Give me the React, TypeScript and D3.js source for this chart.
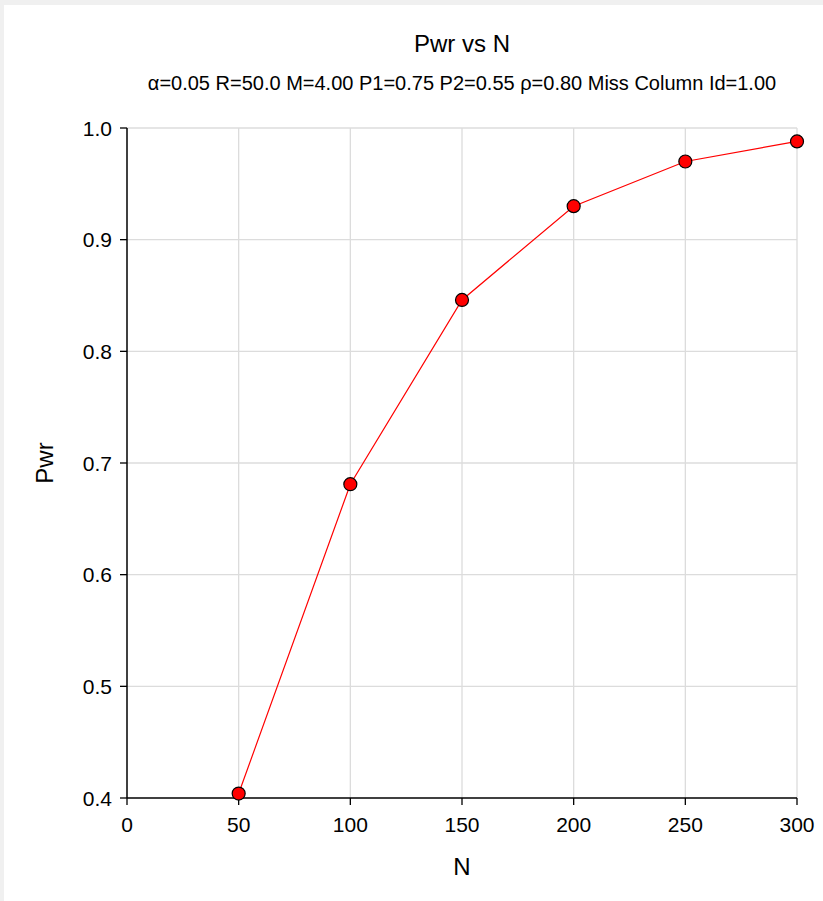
import React from "react";
import * as d3 from "d3";

const nValues = [50, 100, 150, 200, 250, 300];
const pwrValues = [0.404, 0.681, 0.846, 0.93, 0.97, 0.988];
const xTicks = [0, 50, 100, 150, 200, 250, 300];
const yTicks = [0.4, 0.5, 0.6, 0.7, 0.8, 0.9, 1.0];
const titleText = "Pwr vs N";
const subtitleText = "α=0.05 R=50.0 M=4.00 P1=0.75 P2=0.55 ρ=0.80 Miss Column Id=1.00";
const xLabel = "N";
const yLabel = "Pwr";

const W = 823;
const H = 901;
const FONT = "'Liberation Sans', Arial, Helvetica, sans-serif";

export default function App() {
  const left = 127;
  const right = 797;
  const top = 128;
  const bottom = 798;
  const x = d3.scaleLinear().domain([0, 300]).range([left, right]);
  const y = d3.scaleLinear().domain([0.4, 1.0]).range([bottom, top]);
  const pts = nValues.map((n, i) => [n, pwrValues[i]] as [number, number]);
  const line = d3
    .line<[number, number]>()
    .x((d) => x(d[0]))
    .y((d) => y(d[1]));

  return (
    <svg
      width={W}
      height={H}
      style={{ position: "absolute", left: 0, top: 0, display: "block" }}
      fontFamily={FONT}
    >
      <rect x={0} y={0} width={W} height={H} fill="#f0f0f0" />
      <rect x={4} y={5} width={W - 4} height={H - 5} fill="#ffffff" />

      {/* gridlines */}
      {yTicks.filter((t) => t > 0.4).map((t) => (
        <line key={"gy" + t} x1={left} x2={right} y1={y(t)} y2={y(t)} stroke="#dcdcdc" strokeWidth={1.3} />
      ))}
      {xTicks.filter((t) => t > 0).map((t) => (
        <line key={"gx" + t} x1={x(t)} x2={x(t)} y1={top} y2={bottom} stroke="#dcdcdc" strokeWidth={1.3} />
      ))}

      {/* axes */}
      <line x1={left} x2={left} y1={top} y2={bottom} stroke="#000" strokeWidth={1.5} />
      <line x1={left} x2={right} y1={bottom} y2={bottom} stroke="#000" strokeWidth={1.5} />
      {yTicks.map((t) => (
        <g key={"ty" + t}>
          <line x1={left - 7} x2={left} y1={y(t)} y2={y(t)} stroke="#000" strokeWidth={1.3} />
          <text x={left - 15} y={y(t)} dy="0.36em" textAnchor="end" fontSize={21} fill="#000">
            {t.toFixed(1)}
          </text>
        </g>
      ))}
      {xTicks.map((t) => (
        <g key={"tx" + t}>
          <line x1={x(t)} x2={x(t)} y1={bottom} y2={bottom + 7} stroke="#000" strokeWidth={1.3} />
          <text x={x(t)} y={bottom + 34} textAnchor="middle" fontSize={21} fill="#000">
            {t}
          </text>
        </g>
      ))}

      {/* series */}
      <path d={line(pts) || ""} fill="none" stroke="#ff0000" strokeWidth={1.2} />
      {pts.map((p, i) => (
        <circle key={"pt" + i} cx={x(p[0])} cy={y(p[1])} r={6.5} fill="#ff0000" stroke="#000" strokeWidth={1.2} />
      ))}

      {/* titles */}
      <text x={(left + right) / 2} y={52} textAnchor="middle" fontSize={24} fill="#000">
        {titleText}
      </text>
      <text x={(left + right) / 2} y={90} textAnchor="middle" fontSize={20} fill="#000">
        {subtitleText}
      </text>
      <text x={(left + right) / 2} y={875} textAnchor="middle" fontSize={24} fill="#000">
        {xLabel}
      </text>
      <text
        transform={`translate(53, ${(top + bottom) / 2}) rotate(-90)`}
        textAnchor="middle"
        fontSize={24}
        fill="#000"
      >
        {yLabel}
      </text>
    </svg>
  );
}
